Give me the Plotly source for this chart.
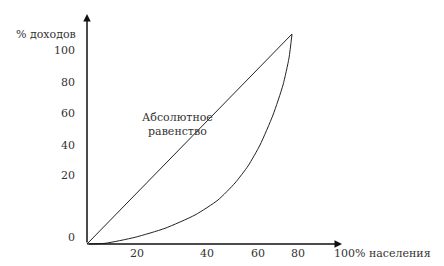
import plotly.graph_objects as go

# Schematic coordinates: origin of the axes at (0, 0)
equality_x = [0, 205]
equality_y = [0, 210]

lorenz_x = [0, 18, 48, 78, 108, 131, 148, 161, 173, 186, 196, 202, 205]
lorenz_y = [0, 0.7, 6.7, 15.7, 29, 44, 61, 78, 99, 129, 159, 186, 210]

y_tick_text = ["100", "80", "60", "40", "20", "0"]
y_tick_pos = [194, 162, 131, 99, 69, 7]
x_tick_text = ["20", "40", "60", "80"]
x_tick_pos = [50, 120, 171, 211]

font = dict(family="DejaVu Serif", size=11, color="#333333")

fig = go.Figure()
fig.add_trace(go.Scatter(x=equality_x, y=equality_y, mode="lines",
                         line=dict(color="#222222", width=1), hoverinfo="skip"))
fig.add_trace(go.Scatter(x=lorenz_x, y=lorenz_y, mode="lines",
                         line=dict(color="#222222", width=1, shape="spline", smoothing=0.6),
                         hoverinfo="skip"))

ann = []
# axes with arrows
ann.append(dict(x=0, y=230, ax=0, ay=0, xref="x", yref="y", axref="x", ayref="y",
                showarrow=True, arrowhead=2, arrowsize=1, arrowwidth=1.5,
                arrowcolor="#111111", text=""))
ann.append(dict(x=255, y=0, ax=0, ay=0, xref="x", yref="y", axref="x", ayref="y",
                showarrow=True, arrowhead=2, arrowsize=1, arrowwidth=1.5,
                arrowcolor="#111111", text=""))
for t, p in zip(y_tick_text, y_tick_pos):
    ann.append(dict(x=-10, y=p, text=t, showarrow=False, xanchor="right",
                    yanchor="middle", font=font))
for t, p in zip(x_tick_text, x_tick_pos):
    ann.append(dict(x=p, y=-9, text=t, showarrow=False, xanchor="center",
                    yanchor="middle", font=font))
ann.append(dict(x=245, y=-9, text="100% населения", showarrow=False,
                xanchor="left", yanchor="middle", font=font))
ann.append(dict(x=-41.5, y=210, text="% доходов", showarrow=False,
                xanchor="center", yanchor="middle", font=font))
ann.append(dict(x=90, y=120, text="Абсолютное<br>равенство", showarrow=False,
                xanchor="center", yanchor="middle", font=font, align="center"))

fig.update_layout(
    width=444, height=266,
    margin=dict(l=0, r=0, t=0, b=0),
    paper_bgcolor="white", plot_bgcolor="white",
    showlegend=False,
    font=dict(family="DejaVu Serif"),
    xaxis=dict(range=[-87, 357], visible=False, fixedrange=True),
    yaxis=dict(range=[-22, 244], visible=False, fixedrange=True),
    annotations=ann,
)
fig.write_html("out.html")
